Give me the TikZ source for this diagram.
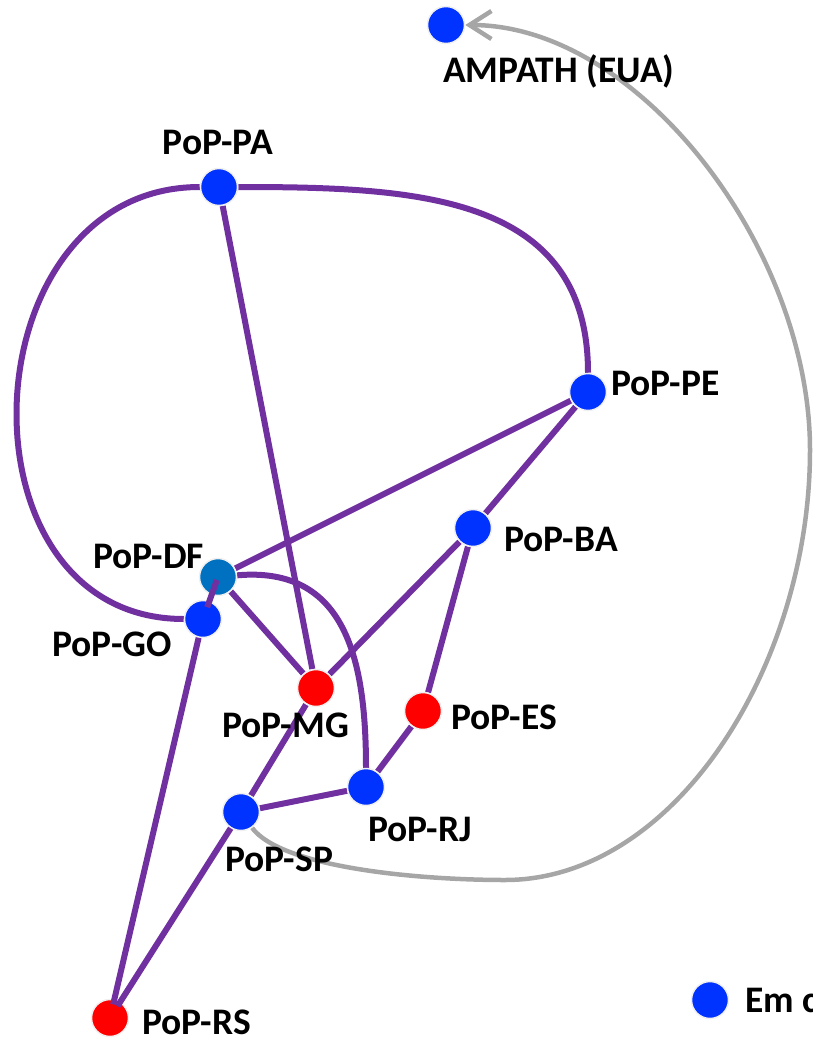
\documentclass[tikz,border=0pt]{standalone}
\usepackage{fontspec}
\setmainfont{Carlito}
\usetikzlibrary{arrows.meta,calc,backgrounds}
\definecolor{pblue}{RGB}{0,51,255}
\definecolor{pred}{RGB}{255,0,0}
\definecolor{pteal}{RGB}{0,112,192}
\definecolor{ppurple}{RGB}{112,48,160}
\definecolor{pgray}{RGB}{166,166,166}
\definecolor{ring}{RGB}{240,240,240}
\begin{document}
\begin{tikzpicture}[x=1pt,y=1pt,
  pop/.style={circle,minimum size=37pt,inner sep=0pt,draw=ring,line width=1.5pt},
  popblue/.style={pop,fill=pblue},
  popred/.style={pop,fill=pred},
  popteal/.style={pop,fill=pteal},
  lbl/.style={font=\bfseries\fontsize{37.5}{42}\selectfont,inner sep=0pt},
  link/.style={draw=ppurple,line width=6pt},
  intl/.style={draw=pgray,line width=4.5pt,-{Straight Barb[length=22pt,width=28pt]}}]
\useasboundingbox (0,0) rectangle (813,-1038);
% nodes
\node[popblue] (AM) at (446,-25) {};
\node[popblue] (PA) at (219,-187) {};
\node[popblue] (PE) at (588,-392) {};
\node[popblue] (BA) at (473,-528) {};
\node[popteal] (DF) at (218,-577) {};
\node[popblue] (GO) at (203,-619) {};
\node[popred]  (MG) at (316,-688) {};
\node[popred]  (ES) at (423,-711) {};
\node[popblue] (RJ) at (366,-787) {};
\node[popblue] (SP) at (241,-812) {};
\node[popred]  (RS) at (110,-1018) {};
\node[popblue] (LG) at (710,-1000) {};
% labels
\node[lbl,anchor=base west] (lAM) at (443,-83) {AMPATH (EUA)};
\node[lbl,anchor=base] (lPA) at (218,-154) {PoP-PA};
\node[lbl,anchor=base west] (lPE) at (611,-395) {PoP-PE};
\node[lbl,anchor=base west] (lBA) at (504,-551) {PoP-BA};
\node[lbl,anchor=base west] (lDF) at (93,-568) {PoP-DF};
\node[lbl,anchor=base east] (lGO) at (172,-656) {PoP-GO};
\node[lbl,anchor=base west] (lMG) at (222,-737) {PoP-MG};
\node[lbl,anchor=base east] (lES) at (557,-729) {PoP-ES};
\node[lbl,anchor=base west] (lRJ) at (368,-841) {PoP-RJ};
\node[lbl,anchor=base west] (lSP) at (225,-871) {PoP-SP};
\node[lbl,anchor=base west] (lRS) at (142,-1034) {PoP-RS};
\node[lbl,anchor=base west] (lLG) at (745,-1012) {Em c};
% route coordinates
\coordinate (g1) at (505,-880);
\coordinate (g2) at (810,-450);
% links behind nodes
\begin{scope}[on background layer]
\draw[link] (PA) to[out=0,in=90,looseness=1.15] (PE);
\draw[link] (PA) to[out=180,in=180,looseness=1.38] (GO);
\draw[link] (PA) -- (MG);
\draw[link] (PE) -- (DF);
\draw[link] (PE) -- (BA);
\draw[link] (BA) -- (MG);
\draw[link] (BA) -- (ES);
\draw[link] (ES) -- (RJ);
\draw[link] (DF) -- (MG);
\draw[link] (DF) to[out=5,in=90,looseness=1.2] (RJ);
\draw[link] (MG) -- (SP);
\draw[link] (SP) -- (RJ);
\draw[intl] (SP.-55) .. controls (282,-868) and (420,-880) .. (g1)
  .. controls (675,-880) and (810,-665) .. (g2)
  .. controls (810,-250) and (640,-25) .. (AM);
\end{scope}
% links over nodes
\draw[link] ($(GO)!0.28!(DF)$) -- ($(GO)!0.93!(DF)$);
\draw[link] (GO) -- ($(RS)!14pt!(GO)$);
\draw[link] (SP) -- ($(RS)!14pt!(SP)$);
\end{tikzpicture}
\end{document}
